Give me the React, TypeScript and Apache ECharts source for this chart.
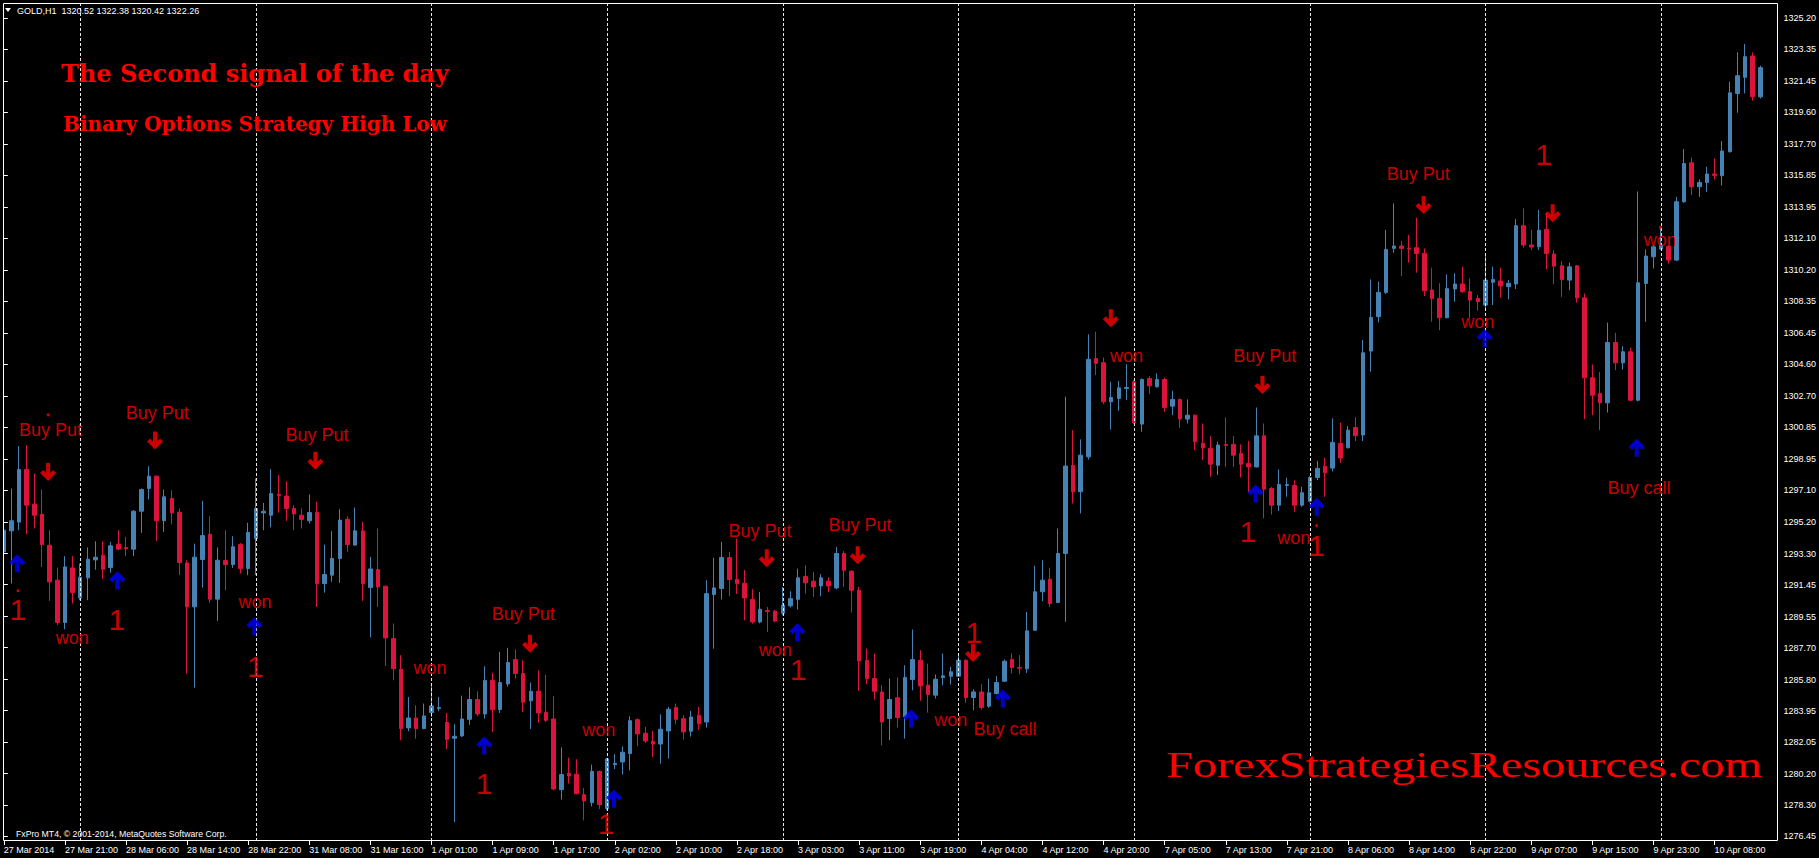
import React, { useEffect, useRef } from 'react';
import * as echarts from 'echarts';

// bottom time labels, one every 8 bars starting at bar 0
const timeLabels = [
  '27 Mar 2014', '27 Mar 21:00', '28 Mar 06:00', '28 Mar 14:00', '28 Mar 22:00', '31 Mar 08:00',
  '31 Mar 16:00', '1 Apr 01:00', '1 Apr 09:00', '1 Apr 17:00', '2 Apr 02:00', '2 Apr 10:00',
  '2 Apr 18:00', '3 Apr 03:00', '3 Apr 11:00', '3 Apr 19:00', '4 Apr 04:00', '4 Apr 12:00',
  '4 Apr 20:00', '7 Apr 05:00', '7 Apr 13:00', '7 Apr 21:00', '8 Apr 06:00', '8 Apr 14:00',
  '8 Apr 22:00', '9 Apr 07:00', '9 Apr 15:00', '9 Apr 23:00', '10 Apr 08:00',
];

// right price scale tick labels
const priceTicks = [
  1276.45, 1278.3, 1280.2, 1282.05, 1283.95, 1285.8, 1287.7, 1289.55, 1291.45, 1293.3,
  1295.2, 1297.1, 1298.95, 1300.85, 1302.7, 1304.6, 1306.45, 1308.35, 1310.2, 1312.1,
  1313.95, 1315.85, 1317.7, 1319.6, 1321.45, 1323.35, 1325.2,
];

// bars where a new trading day starts (period separators)
const separatorBars = [10, 33, 56, 79, 102, 125, 148, 171, 194, 217];

// GOLD H1 candles: [open, high, low, close]
const bars: number[][] = [
  [1293.41, 1295.30, 1292.71, 1294.70], [1294.66, 1297.18, 1291.52, 1295.26], [1295.18, 1299.71, 1294.70, 1298.32],
  [1298.32, 1299.77, 1294.46, 1296.19], [1296.25, 1298.08, 1294.80, 1295.59], [1295.65, 1297.12, 1292.51, 1293.84],
  [1293.80, 1294.70, 1290.49, 1291.62], [1291.72, 1292.47, 1289.04, 1289.20], [1289.20, 1293.15, 1288.80, 1292.51],
  [1292.45, 1293.15, 1290.33, 1290.98], [1290.67, 1292.71, 1290.53, 1291.90], [1291.86, 1293.67, 1290.53, 1292.97],
  [1292.93, 1294.04, 1292.35, 1293.09], [1293.21, 1294.04, 1291.78, 1292.37], [1292.47, 1294.00, 1292.16, 1293.77],
  [1293.86, 1294.70, 1293.51, 1293.57], [1293.67, 1294.30, 1293.15, 1293.59], [1293.57, 1295.89, 1293.15, 1295.83],
  [1295.83, 1297.18, 1294.54, 1297.12], [1297.18, 1298.51, 1296.53, 1297.92], [1297.92, 1297.94, 1294.06, 1295.26],
  [1295.26, 1297.12, 1294.60, 1296.69], [1296.59, 1297.08, 1295.04, 1295.73], [1295.77, 1295.99, 1292.02, 1292.77],
  [1292.75, 1292.91, 1286.15, 1290.13], [1290.13, 1293.90, 1285.32, 1293.09], [1292.95, 1296.45, 1291.28, 1294.38],
  [1294.46, 1295.53, 1290.37, 1290.59], [1290.59, 1293.67, 1289.29, 1292.91], [1292.89, 1294.70, 1291.12, 1292.65],
  [1292.65, 1294.34, 1292.45, 1293.71], [1293.84, 1293.94, 1292.12, 1292.41], [1292.41, 1295.14, 1292.02, 1294.56],
  [1294.20, 1297.78, 1292.02, 1295.99], [1295.73, 1296.33, 1294.70, 1295.83], [1295.59, 1298.34, 1294.86, 1296.88],
  [1296.83, 1297.98, 1295.75, 1296.77], [1296.73, 1297.62, 1295.26, 1295.99], [1295.99, 1296.19, 1294.70, 1295.67],
  [1295.59, 1295.99, 1294.80, 1295.34], [1295.26, 1296.83, 1295.10, 1295.75], [1295.75, 1296.39, 1290.13, 1291.52],
  [1291.52, 1293.84, 1290.98, 1292.06], [1292.02, 1294.64, 1291.62, 1293.01], [1293.01, 1295.95, 1291.56, 1295.30],
  [1295.35, 1295.53, 1293.41, 1293.84], [1293.81, 1296.05, 1293.77, 1294.66], [1294.66, 1295.20, 1290.49, 1291.52],
  [1291.28, 1293.11, 1288.32, 1292.39], [1292.35, 1294.80, 1290.13, 1291.32], [1291.36, 1291.40, 1286.61, 1288.28],
  [1288.24, 1289.14, 1285.76, 1286.45], [1286.41, 1287.25, 1282.18, 1282.88], [1282.92, 1284.76, 1282.72, 1283.51],
  [1283.51, 1284.27, 1282.28, 1282.88], [1282.88, 1284.37, 1282.84, 1283.63], [1283.83, 1285.46, 1283.57, 1284.23],
  [1284.07, 1284.76, 1283.91, 1284.13], [1283.24, 1283.81, 1281.65, 1282.24], [1282.30, 1283.14, 1277.31, 1282.42],
  [1282.44, 1284.84, 1282.38, 1283.45], [1283.43, 1285.34, 1283.10, 1284.61], [1284.61, 1285.10, 1283.61, 1283.75],
  [1283.75, 1286.59, 1283.47, 1285.74], [1285.74, 1286.20, 1282.68, 1284.01], [1284.01, 1287.45, 1283.81, 1285.62],
  [1285.54, 1287.69, 1285.38, 1286.81], [1286.99, 1287.59, 1285.86, 1286.16], [1286.16, 1286.95, 1283.87, 1284.45],
  [1284.53, 1285.62, 1282.86, 1285.10], [1285.10, 1286.35, 1283.22, 1283.81], [1283.85, 1286.10, 1283.27, 1283.37],
  [1283.45, 1284.82, 1279.20, 1279.28], [1279.24, 1281.76, 1278.65, 1280.14], [1280.21, 1281.15, 1279.60, 1280.06],
  [1280.16, 1281.05, 1278.95, 1279.00], [1278.94, 1279.34, 1277.41, 1278.57], [1278.47, 1280.73, 1278.25, 1280.33],
  [1280.33, 1280.37, 1278.09, 1278.35], [1278.11, 1281.13, 1278.01, 1281.07], [1280.73, 1281.35, 1280.47, 1280.81],
  [1280.89, 1281.82, 1280.14, 1281.47], [1281.39, 1283.61, 1280.39, 1283.35], [1283.41, 1283.49, 1281.82, 1282.56],
  [1282.60, 1282.98, 1282.02, 1282.14], [1282.12, 1282.74, 1281.19, 1281.96], [1281.96, 1283.73, 1280.79, 1282.84],
  [1282.74, 1284.17, 1281.09, 1284.03], [1284.13, 1284.37, 1283.13, 1283.43], [1283.47, 1283.67, 1282.22, 1282.68],
  [1282.72, 1283.93, 1282.40, 1283.57], [1283.67, 1284.17, 1282.80, 1283.17], [1283.27, 1291.72, 1282.94, 1290.92],
  [1290.86, 1293.05, 1287.64, 1291.26], [1291.22, 1294.00, 1290.57, 1293.07], [1293.07, 1293.41, 1290.76, 1291.76],
  [1291.78, 1294.20, 1290.90, 1291.52], [1291.54, 1292.33, 1289.33, 1290.66], [1290.57, 1291.18, 1289.13, 1289.23],
  [1289.23, 1291.02, 1289.15, 1289.99], [1289.91, 1290.13, 1288.64, 1289.85], [1289.87, 1289.95, 1289.20, 1289.29],
  [1289.75, 1291.32, 1289.63, 1290.23], [1290.19, 1291.06, 1290.09, 1290.62], [1290.58, 1292.41, 1289.97, 1291.86],
  [1291.94, 1292.61, 1290.92, 1291.56], [1291.66, 1292.21, 1290.72, 1291.32], [1291.38, 1292.08, 1290.76, 1291.86],
  [1291.66, 1291.88, 1291.02, 1291.38], [1291.26, 1293.70, 1291.18, 1293.31], [1293.31, 1293.45, 1291.32, 1292.31],
  [1292.25, 1292.31, 1289.79, 1291.12], [1291.12, 1291.32, 1285.12, 1286.91], [1286.93, 1287.64, 1285.52, 1285.86],
  [1285.86, 1287.35, 1284.60, 1285.10], [1285.06, 1285.46, 1281.88, 1283.27], [1283.48, 1285.86, 1282.18, 1284.61],
  [1284.71, 1285.92, 1282.94, 1283.53], [1283.57, 1286.65, 1282.28, 1285.92], [1285.80, 1288.78, 1285.16, 1286.99],
  [1286.95, 1287.55, 1284.53, 1285.42], [1285.46, 1286.75, 1283.83, 1284.91], [1284.87, 1286.10, 1284.67, 1285.82],
  [1285.92, 1287.35, 1285.46, 1286.02], [1286.00, 1286.56, 1285.50, 1286.26], [1286.00, 1287.35, 1285.96, 1286.95],
  [1286.95, 1287.00, 1284.41, 1284.73], [1284.73, 1285.22, 1283.97, 1285.06], [1285.06, 1285.52, 1284.01, 1284.13],
  [1284.21, 1285.86, 1284.11, 1285.01], [1284.97, 1286.00, 1284.91, 1285.62], [1285.70, 1286.99, 1285.66, 1286.89],
  [1286.99, 1287.35, 1286.16, 1286.52], [1286.52, 1287.25, 1286.12, 1286.48], [1286.44, 1289.83, 1286.20, 1288.70],
  [1288.74, 1292.58, 1288.70, 1291.03], [1291.03, 1292.91, 1290.47, 1291.72], [1291.78, 1292.46, 1290.13, 1290.33],
  [1290.39, 1294.80, 1290.37, 1293.31], [1293.31, 1302.65, 1289.24, 1298.52], [1298.56, 1300.66, 1296.29, 1296.99],
  [1296.99, 1300.11, 1295.70, 1299.17], [1299.07, 1306.37, 1298.91, 1304.88], [1304.93, 1306.52, 1303.94, 1304.64],
  [1304.68, 1304.99, 1302.21, 1302.35], [1302.35, 1303.54, 1300.70, 1302.61], [1302.55, 1303.58, 1301.81, 1303.18],
  [1303.14, 1304.59, 1302.45, 1303.20], [1303.54, 1303.64, 1301.02, 1301.10], [1301.02, 1303.74, 1300.56, 1303.68],
  [1303.74, 1303.88, 1302.81, 1303.30], [1303.24, 1304.04, 1303.20, 1303.68], [1303.68, 1303.78, 1301.75, 1302.01],
  [1302.09, 1303.01, 1301.55, 1302.49], [1302.49, 1302.55, 1300.80, 1301.32], [1301.32, 1302.49, 1301.06, 1301.55],
  [1301.55, 1301.59, 1299.47, 1299.97], [1299.87, 1301.06, 1298.87, 1299.61], [1299.57, 1300.30, 1297.88, 1298.63],
  [1298.57, 1299.97, 1297.98, 1299.77], [1299.81, 1301.42, 1298.47, 1299.75], [1299.81, 1300.30, 1298.47, 1299.17],
  [1299.27, 1299.81, 1297.84, 1298.63], [1298.67, 1300.02, 1296.98, 1298.47], [1298.47, 1302.01, 1298.44, 1300.32],
  [1300.32, 1301.06, 1295.40, 1297.14], [1297.18, 1297.28, 1295.63, 1296.19], [1296.19, 1298.32, 1295.85, 1297.42],
  [1297.36, 1297.82, 1296.69, 1297.42], [1297.36, 1297.68, 1295.79, 1296.19], [1296.19, 1297.28, 1296.09, 1296.93],
  [1296.43, 1297.92, 1296.35, 1297.84], [1297.84, 1298.83, 1297.68, 1298.38], [1298.51, 1299.01, 1296.69, 1298.12],
  [1298.40, 1301.36, 1298.20, 1299.93], [1299.87, 1301.10, 1298.70, 1299.00], [1299.61, 1300.90, 1299.57, 1300.66],
  [1300.82, 1301.42, 1300.01, 1300.33], [1300.37, 1306.03, 1300.01, 1305.27], [1305.37, 1309.64, 1304.14, 1307.38],
  [1307.42, 1309.51, 1307.08, 1308.87], [1308.87, 1312.59, 1308.77, 1311.43], [1311.49, 1314.17, 1311.23, 1311.63],
  [1311.63, 1311.93, 1309.84, 1311.49], [1311.49, 1312.29, 1310.64, 1311.45], [1311.53, 1313.32, 1310.04, 1311.19],
  [1311.19, 1311.49, 1308.65, 1308.97], [1309.01, 1310.34, 1307.12, 1308.51], [1308.51, 1309.41, 1306.62, 1307.36],
  [1307.36, 1309.94, 1307.32, 1309.09], [1309.07, 1310.00, 1308.31, 1309.37], [1309.37, 1310.40, 1308.85, 1308.91],
  [1308.91, 1309.70, 1307.32, 1308.41], [1308.51, 1308.71, 1307.78, 1308.31], [1308.11, 1311.10, 1307.88, 1309.60],
  [1309.47, 1310.40, 1308.11, 1309.64], [1309.55, 1310.34, 1308.55, 1309.25], [1309.21, 1309.60, 1308.45, 1309.41],
  [1309.37, 1313.24, 1309.07, 1312.84], [1312.84, 1313.88, 1311.53, 1311.69], [1311.69, 1312.59, 1311.39, 1311.57],
  [1311.59, 1313.78, 1311.39, 1312.57], [1312.62, 1313.60, 1310.23, 1311.19], [1311.15, 1311.39, 1309.36, 1310.43],
  [1310.45, 1310.73, 1308.60, 1309.64], [1309.60, 1310.65, 1309.00, 1310.39], [1310.45, 1310.49, 1308.25, 1308.54],
  [1308.54, 1308.80, 1301.31, 1303.78], [1303.78, 1304.57, 1301.55, 1302.74], [1302.84, 1304.13, 1300.66, 1302.29],
  [1302.29, 1307.07, 1301.71, 1305.88], [1305.88, 1306.46, 1304.23, 1304.67], [1304.67, 1305.66, 1304.27, 1305.33],
  [1305.33, 1305.58, 1302.40, 1302.44], [1302.44, 1314.88, 1302.38, 1309.44], [1309.40, 1311.43, 1307.11, 1311.03],
  [1310.99, 1311.68, 1310.29, 1311.58], [1311.45, 1312.74, 1311.39, 1311.68], [1311.62, 1311.68, 1310.59, 1310.79],
  [1310.79, 1314.56, 1310.73, 1314.27], [1314.27, 1317.41, 1314.20, 1316.55], [1316.59, 1316.89, 1314.66, 1315.16],
  [1315.16, 1315.60, 1314.56, 1315.42], [1315.42, 1316.35, 1314.86, 1315.92], [1315.92, 1316.85, 1315.60, 1315.84],
  [1315.82, 1317.88, 1315.24, 1317.29], [1317.25, 1321.42, 1317.20, 1320.76], [1320.72, 1323.17, 1319.57, 1321.78],
  [1321.68, 1323.67, 1320.72, 1322.91], [1322.95, 1323.17, 1320.29, 1320.53], [1320.52, 1322.38, 1320.42, 1322.26],
];

const lastPrice = 1322.26;

// annotations: [bar position, price, text]
const signalWords: [number, number, string][] = [
  [6.1, 1300.66, 'Buy Put'], [8.95, 1288.3, 'won'], [20.1, 1301.7, 'Buy Put'], [32.9, 1290.4, 'won'],
  [41.0, 1300.39, 'Buy Put'], [55.8, 1286.48, 'won'], [68.0, 1289.69, 'Buy Put'], [77.9, 1282.8, 'won'],
  [99.0, 1294.65, 'Buy Put'], [101.0, 1287.55, 'won'], [112.1, 1295.0, 'Buy Put'], [124.0, 1283.39, 'won'],
  [131.1, 1282.85, 'Buy call'], [147.0, 1305.07, 'won'], [165.1, 1305.07, 'Buy Put'], [168.9, 1294.21, 'won'],
  [185.2, 1315.9, 'Buy Put'], [193.0, 1307.12, 'won'], [216.9, 1311.99, 'won'], [214.1, 1297.21, 'Buy call'],
];
const countMarks: [number, number, string][] = [
  [1.85, 1289.95, '1'], [14.8, 1289.4, '1'], [32.95, 1286.6, '1'], [62.9, 1279.6, '1'], [78.85, 1277.2, '1'],
  [104.0, 1286.37, '1'], [127.0, 1288.63, '1'], [162.9, 1294.6, '1'], [171.9, 1293.81, '1'], [201.6, 1317.11, '1'],
];
const putArrows: [number, number][] = [
  [5.8, 1298.16], [19.8, 1300.04], [40.8, 1298.84], [68.9, 1287.93], [99.9, 1293.03], [111.8, 1293.2],
  [126.9, 1287.38], [144.95, 1307.32], [164.8, 1303.35], [185.9, 1314.07], [202.8, 1313.58],
];
const callArrows: [number, number][] = [
  [1.75, 1292.73], [14.85, 1291.72], [32.8, 1288.98], [62.9, 1281.87], [79.9, 1278.7], [103.9, 1288.62],
  [118.8, 1283.48], [130.8, 1284.67], [163.9, 1296.89], [171.9, 1296.09], [193.9, 1306.13], [213.8, 1299.61],
];
const markerDots: [number, number][] = [[5.8, 1301.57], [1.85, 1291.09], [171.9, 1294.97], [216.9, 1312.74]];

const SLOTS = 233;
const UP = '#4682B4';
const DOWN = '#DC143C';
const UI_FONT = '"Liberation Sans", Arial, sans-serif';

const ARROW_DOWN = 'path://M8,18L16,10L13,7L10,10L10,0L6,0L6,10L3,7L0,10Z';
const ARROW_UP = 'path://M8,0L16,8L13,11L10,8L10,18L6,18L6,8L3,11L0,8Z';

export default function App() {
  const ref = useRef<HTMLDivElement>(null);
  useEffect(() => {
    document.body.style.margin = '0';
    const chart = echarts.init(ref.current as HTMLDivElement, null, { renderer: 'svg' });
    const categories = Array.from({ length: SLOTS }, (_, i) => String(i));
    const candleData = bars.map((b) => [b[0], b[3], b[2], b[1]]);
    const showTick = (index: number) => index % 8 === 0 && index / 8 < timeLabels.length;

    const textSeries = (data: [number, number, string][], size: number) => ({
      type: 'scatter',
      xAxisIndex: 1,
      yAxisIndex: 0,
      symbolSize: 0,
      silent: true,
      z: 5,
      data: data.map(([x, y, t]) => ({ name: t, value: [x, y] })),
      label: {
        show: true,
        position: 'inside',
        formatter: '{b}',
        color: '#FF0000',
        fontSize: size,
        fontFamily: UI_FONT,
      },
    });

    chart.setOption({
      animation: false,
      backgroundColor: '#000000',
      grid: { left: 0, right: 39, top: 3, bottom: 17 },
      xAxis: [
        {
          type: 'category',
          data: categories,
          boundaryGap: true,
          axisLine: { show: false },
          axisTick: { show: true, alignWithLabel: true, interval: showTick, length: 4, lineStyle: { color: '#ffffff' } },
          axisLabel: {
            interval: showTick,
            formatter: (_v: string, idx: number) => timeLabels[idx / 8] ?? '',
            color: '#ffffff',
            fontSize: 9,
            fontFamily: UI_FONT,
            align: 'left',
            margin: 4,
          },
          splitLine: { show: false },
        },
        { type: 'value', min: -0.5, max: SLOTS - 0.5, show: false },
      ],
      yAxis: {
        type: 'value',
        position: 'right',
        min: 1276.18,
        max: 1326.11,
        offset: -2,
        axisLine: { show: false },
        splitLine: { show: false },
        axisTick: { show: true, length: 4, lineStyle: { color: '#ffffff' }, customValues: priceTicks },
        axisLabel: {
          customValues: priceTicks,
          formatter: (v: number) => v.toFixed(2),
          color: '#ffffff',
          fontSize: 9,
          fontFamily: UI_FONT,
          margin: 6,
        },
      },
      series: [
        {
          type: 'candlestick',
          xAxisIndex: 0,
          yAxisIndex: 0,
          barWidth: 4,
          data: candleData,
          itemStyle: { color: UP, color0: DOWN, borderColor: UP, borderColor0: DOWN, borderWidth: 1 },
          markLine: {
            silent: true,
            symbol: ['none', 'none'],
            animation: false,
            data: [
              ...separatorBars.map((b) => ({
                xAxis: b,
                lineStyle: { color: '#ffffff', type: [3, 2], width: 1, opacity: 0.9 },
                label: { show: false },
              })),
              {
                yAxis: lastPrice,
                lineStyle: { opacity: 0 },
                label: {
                  show: true,
                  position: 'end',
                  formatter: lastPrice.toFixed(2),
                  backgroundColor: '#ffffff',
                  color: '#000000',
                  fontSize: 9,
                  fontFamily: UI_FONT,
                  padding: [1, 6, 1, 4],
                  distance: 0,
                },
              },
            ],
          },
        },
        textSeries(signalWords, 18),
        textSeries(countMarks, 30),
        {
          type: 'scatter',
          xAxisIndex: 1,
          symbol: ARROW_DOWN,
          symbolSize: [16, 18],
          silent: true,
          z: 5,
          itemStyle: { color: '#FF0000' },
          data: putArrows,
        },
        {
          type: 'scatter',
          xAxisIndex: 1,
          symbol: ARROW_UP,
          symbolSize: [16, 18],
          silent: true,
          z: 5,
          itemStyle: { color: '#0000FF' },
          data: callArrows,
        },
        {
          type: 'scatter',
          xAxisIndex: 1,
          symbol: 'circle',
          symbolSize: 3,
          silent: true,
          z: 5,
          itemStyle: { color: '#FF0000' },
          data: markerDots,
        },
      ],
      graphic: [
        { type: 'rect', z: 100, shape: { x: 0, y: 0, width: 3, height: 858 }, style: { fill: '#000000' } },
        {
          type: 'rect',
          z: 101,
          shape: { x: 3.5, y: 3.5, width: 1774, height: 837 },
          style: { fill: 'none', stroke: '#ffffff', lineWidth: 1 },
        },
        {
          type: 'polygon',
          z: 102,
          shape: { points: [[5, 8], [11, 8], [8, 12]] },
          style: { fill: '#ffffff' },
        },
        {
          type: 'text',
          z: 102,
          x: 17,
          y: 11,
          style: {
            text: 'GOLD,H1  1320.52 1322.38 1320.42 1322.26',
            fill: '#ffffff',
            fontSize: 9,
            fontFamily: UI_FONT,
            verticalAlign: 'middle',
          },
        },
        {
          type: 'text',
          z: 102,
          x: 61,
          y: 73,
          style: {
            text: 'The Second signal of the day',
            fill: '#FF0000',
            fontSize: 24,
            fontWeight: 'bold',
            fontFamily: '"DejaVu Serif", serif',
            verticalAlign: 'middle',
          },
        },
        {
          type: 'text',
          z: 102,
          x: 63,
          y: 124,
          style: {
            text: 'Binary Options Strategy High Low',
            fill: '#FF0000',
            fontSize: 20,
            fontWeight: 'bold',
            fontFamily: '"DejaVu Serif", serif',
            verticalAlign: 'middle',
          },
        },
        {
          type: 'text',
          z: 102,
          x: 1166,
          y: 765,
          scaleX: 1.34,
          style: {
            text: 'ForexStrategiesResources.com',
            fill: '#FF0000',
            fontSize: 36,
            fontFamily: '"Liberation Serif", "Times New Roman", serif',
            verticalAlign: 'middle',
          },
        },
        {
          type: 'text',
          z: 102,
          x: 16,
          y: 834,
          style: {
            text: 'FxPro MT4, © 2001-2014, MetaQuotes Software Corp.',
            fill: '#ffffff',
            fontSize: 8.7,
            fontFamily: UI_FONT,
            verticalAlign: 'middle',
          },
        },
      ],
    });
    return () => chart.dispose();
  }, []);
  return (
    <div
      ref={ref}
      style={{ position: 'fixed', left: 0, top: 0, width: 1819, height: 858, background: '#000000' }}
    />
  );
}
